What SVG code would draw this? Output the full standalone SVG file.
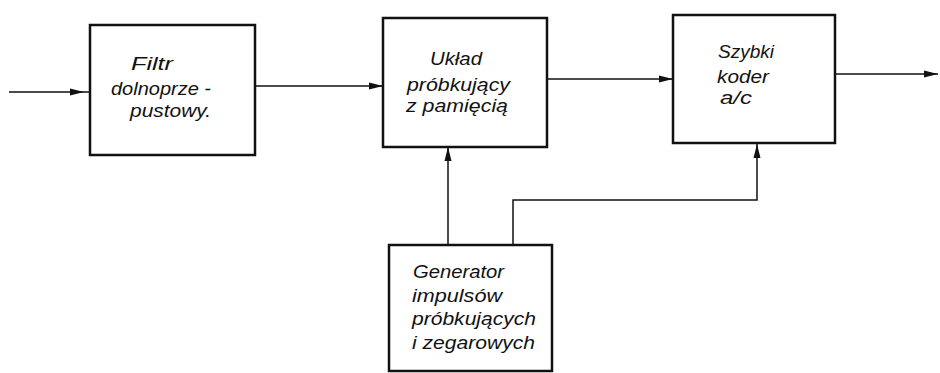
<svg xmlns="http://www.w3.org/2000/svg" width="940" height="373" viewBox="0 0 940 373">
<style>
.box{fill:#fff;stroke:#111;stroke-width:2.5}
.ln{fill:none;stroke:#111;stroke-width:1.5}
text{font-family:"Liberation Sans",Arial,sans-serif;font-style:italic;font-size:18px;fill:#111}
</style>
<defs>
<marker id="ah" viewBox="0 0 14 8" refX="14" refY="4" markerWidth="14" markerHeight="8" markerUnits="userSpaceOnUse" orient="auto">
<path d="M0,0.5 L14,4 L0,7.5 Z" fill="#111"/>
</marker>
</defs>
<rect width="940" height="373" fill="#fff"/>
<g id="connectors">
<path class="ln" d="M9,92 L84,92" marker-end="url(#ah)"/>
<path class="ln" d="M84,92 L90,92"/>
<path class="ln" d="M256,86 L383,86" marker-end="url(#ah)"/>
<path class="ln" d="M547,79 L673,79" marker-end="url(#ah)"/>
<path class="ln" d="M835,74 L938,74" marker-end="url(#ah)"/>
<path class="ln" d="M448,245 L448,147" marker-end="url(#ah)"/>
<path class="ln" d="M513,245 L513,200 L757,200 L757,144" marker-end="url(#ah)"/>
</g>
<g id="filtr">
<rect class="box" x="90" y="25" width="165" height="130"/>
<text x="131" y="70" textLength="42" lengthAdjust="spacingAndGlyphs">Filtr</text>
<text x="111" y="95" textLength="100" lengthAdjust="spacingAndGlyphs">dolnoprze -</text>
<text x="130" y="117" textLength="81" lengthAdjust="spacingAndGlyphs">pustowy.</text>
</g>
<g id="uklad">
<rect class="box" x="383" y="18" width="164" height="129"/>
<text x="430" y="65" textLength="52" lengthAdjust="spacingAndGlyphs">Układ</text>
<text x="407" y="91" textLength="103" lengthAdjust="spacingAndGlyphs">próbkujący</text>
<text x="406" y="112" textLength="102" lengthAdjust="spacingAndGlyphs">z pamięcią</text>
</g>
<g id="koder">
<rect class="box" x="673" y="15" width="162" height="128"/>
<text x="718" y="58" textLength="56" lengthAdjust="spacingAndGlyphs">Szybki</text>
<text x="717" y="83" textLength="52" lengthAdjust="spacingAndGlyphs">koder</text>
<text x="720" y="104" textLength="32" lengthAdjust="spacingAndGlyphs">a/c</text>
</g>
<g id="generator">
<rect class="box" x="389" y="245" width="163" height="126"/>
<text x="413" y="278" textLength="91" lengthAdjust="spacingAndGlyphs">Generator</text>
<text x="412" y="302" textLength="90" lengthAdjust="spacingAndGlyphs">impulsów</text>
<text x="412" y="325" textLength="124" lengthAdjust="spacingAndGlyphs">próbkujących</text>
<text x="412" y="349" textLength="123" lengthAdjust="spacingAndGlyphs">i zegarowych</text>
</g>
</svg>
